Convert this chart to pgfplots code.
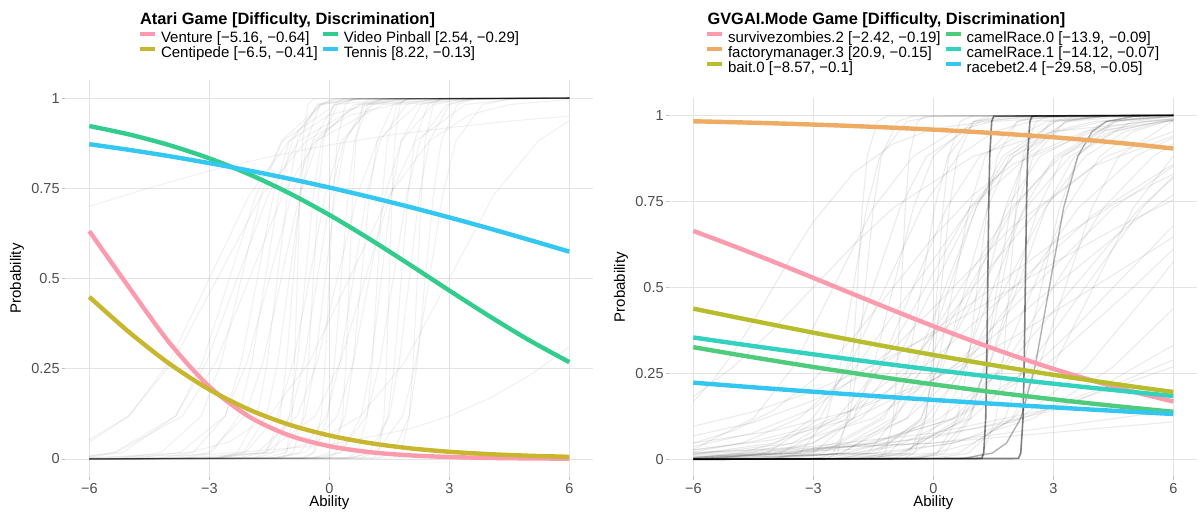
\documentclass[border=0pt]{standalone}
\usepackage{pgfplots}
\pgfplotsset{compat=1.18}
\usepackage{fontspec}
\setmainfont{Liberation Sans}
\definecolor{cPink}{HTML}{FB9BAD}
\definecolor{cOlive}{HTML}{C8B62E}
\definecolor{cGreen}{HTML}{32CC8D}
\definecolor{cBlue}{HTML}{33C7F1}
\definecolor{cOrange}{HTML}{EDAB63}
\definecolor{cBait}{HTML}{B8BD2E}
\definecolor{cCamelA}{HTML}{4ECC7C}
\definecolor{cCamelB}{HTML}{33D2BE}
\definecolor{cRace}{HTML}{33C6F1}
\definecolor{gridc}{HTML}{E3E3E3}
\definecolor{tickc}{HTML}{4D4D4D}
\pgfplotsset{
  irt/.style={
    scale only axis, width=528pt,
    xmin=-6.6, xmax=6.6, ymin=-0.05, ymax=1.05,
    xtick={-6,-3,0,3,6}, xticklabels={−6,−3,0,3,6},
    ytick={0,0.25,0.5,0.75,1}, yticklabels={0,0.25,0.5,0.75,1},
    grid=major, major grid style={draw=gridc, line width=0.8pt},
    axis line style={draw=none},
    tick pos=left, tick align=outside, major tick length=3.5pt,
    tick style={draw=gridc!85!black, line width=0.8pt},
    xticklabel style={font=\fontsize{14.5}{16}\selectfont, text=tickc, inner sep=1pt, yshift=-2pt},
    yticklabel style={font=\fontsize{14.5}{16}\selectfont, text=tickc, inner sep=1pt, xshift=-1pt},
    label style={font=\fontsize{15}{17}\selectfont},
    xlabel={Ability}, ylabel={Probability},
    ylabel style={at={(axis description cs:-0.0915,0.5)}, anchor=center},
    legend columns=2, legend cell align=left,
    legend style={draw=none, fill=none, inner sep=0pt, outer sep=0pt,
      font=\fontsize{15}{17}\selectfont, anchor=north west, row sep=2.7pt,
      nodes={inner sep=0pt},
      /tikz/every odd column/.append style={column sep=4pt},
      /tikz/every even column/.append style={column sep=3pt}},
    legend image code/.code={\draw[#1, line width=4pt] (0pt,4pt) -- (15pt,4pt);},
  },
  fL/.style={draw=black, draw opacity=0.055, line width=1.1pt, forget plot},
  fR/.style={draw=black, draw opacity=0.08, line width=1.1pt, forget plot},
  hl/.style={line width=4.4pt, smooth},
}
\begin{document}
\begin{tikzpicture}
\path[use as bounding box] (0,0) rectangle (1198pt,513pt);
\node[anchor=base west, font=\bfseries\fontsize{16.4}{18}\selectfont] at (136.5pt,488pt) {Atari Game [Difficulty, Discrimination]};
\node[anchor=base west, font=\bfseries\fontsize{16.4}{18}\selectfont] at (704pt,488pt) {GVGAI.Mode Game [Difficulty, Discrimination]};
% ---------------- Left panel ----------------
\begin{axis}[irt, at={(65.3pt,36pt)}, anchor=south west, height=397pt,
  xlabel style={at={(axis description cs:0.5,-0.0655)}, anchor=center},
  legend style={at={(axis description cs:0.1377,1.1217)}}]
\addplot[fL] coordinates {(-6,0.005)(-5.167,0.018)(-3.833,0.119)(-3.167,0.269)(-2.5,0.5)(-1.833,0.731)(-1.167,0.881)(0.167,0.982)(1.5,0.9975)(6,1)};
\addplot[fL] coordinates {(-6,0)(-5.2,0.0025)(-4.2,0.018)(-3.2,0.119)(-2.7,0.269)(-2.2,0.5)(-1.7,0.731)(-1.2,0.881)(-0.2,0.982)(0.8,0.9975)(6,1)};
\addplot[fL] coordinates {(-6,0.008)(-5.333,0.018)(-3.667,0.119)(-2.833,0.269)(-2,0.5)(-1.167,0.731)(-0.333,0.881)(1.333,0.982)(3,0.9975)(6,1)};
\addplot[fL] coordinates {(-6,0)(-4.2,0.0025)(-3.4,0.018)(-2.6,0.119)(-2.2,0.269)(-1.8,0.5)(-1.4,0.731)(-1,0.881)(-0.2,0.982)(0.6,0.9975)(6,1)};
\addplot[fL] coordinates {(-6,0)(-3.6,0.0025)(-2.933,0.018)(-2.267,0.119)(-1.933,0.269)(-1.6,0.5)(-1.267,0.731)(-0.933,0.881)(-0.267,0.982)(0.4,0.9975)(6,1)};
\addplot[fL] coordinates {(-6,0)(-4.833,0.0025)(-3.722,0.018)(-2.611,0.119)(-2.056,0.269)(-1.5,0.5)(-0.944,0.731)(-0.389,0.881)(0.722,0.982)(1.833,0.9975)(6,1)};
\addplot[fL] coordinates {(-6,0)(-2.8,0.0025)(-2.3,0.018)(-1.8,0.119)(-1.55,0.269)(-1.3,0.5)(-1.05,0.731)(-0.8,0.881)(-0.3,0.982)(0.2,0.9975)(6,1)};
\addplot[fL] coordinates {(-6,0)(-3.927,0.0025)(-3.018,0.018)(-2.109,0.119)(-1.655,0.269)(-1.2,0.5)(-0.745,0.731)(-0.291,0.881)(0.618,0.982)(1.527,0.9975)(6,1)};
\addplot[fL] coordinates {(-6,0)(-2.714,0.0025)(-2.143,0.018)(-1.571,0.119)(-1.286,0.269)(-1,0.5)(-0.714,0.731)(-0.429,0.881)(0.143,0.982)(0.714,0.9975)(6,1)};
\addplot[fL] coordinates {(-6,0)(-1.9,0.0025)(-1.567,0.018)(-1.233,0.119)(-1.067,0.269)(-0.9,0.5)(-0.733,0.731)(-0.567,0.881)(-0.233,0.982)(0.1,0.9975)(6,1)};
\addplot[fL] coordinates {(-6,0)(-1.2,0.0025)(-1.067,0.018)(-0.933,0.119)(-0.867,0.269)(-0.8,0.5)(-0.733,0.731)(-0.667,0.881)(-0.533,0.982)(-0.4,0.9975)(6,1)};
\addplot[fL] coordinates {(-6,0)(-1.8,0.0025)(-1.4,0.018)(-1,0.119)(-0.8,0.269)(-0.6,0.5)(-0.4,0.731)(-0.2,0.881)(0.2,0.982)(0.6,0.9975)(6,1)};
\addplot[fL] coordinates {(-6,0)(-2.9,0.0025)(-2.1,0.018)(-1.3,0.119)(-0.9,0.269)(-0.5,0.5)(-0.1,0.731)(0.3,0.881)(1.1,0.982)(1.9,0.9975)(6,1)};
\addplot[fL] coordinates {(-6,0)(-1.15,0.0025)(-0.9,0.018)(-0.65,0.119)(-0.525,0.269)(-0.4,0.5)(-0.275,0.731)(-0.15,0.881)(0.1,0.982)(0.35,0.9975)(6,1)};
\addplot[fL] coordinates {(-6,0)(-2.3,0.0025)(-1.633,0.018)(-0.967,0.119)(-0.633,0.269)(-0.3,0.5)(0.033,0.731)(0.367,0.881)(1.033,0.982)(1.7,0.9975)(6,1)};
\addplot[fL] coordinates {(-6,0)(-1.6,0.0025)(-1.1,0.018)(-0.6,0.119)(-0.35,0.269)(-0.1,0.5)(0.15,0.731)(0.4,0.881)(0.9,0.982)(1.4,0.9975)(6,1)};
\addplot[fL] coordinates {(-6,0)(-0.6,0.0025)(-0.4,0.018)(-0.2,0.119)(-0.1,0.269)(0,0.5)(0.1,0.731)(0.2,0.881)(0.4,0.982)(0.6,0.9975)(6,1)};
\addplot[fL] coordinates {(-6,0)(-2.8,0.0025)(-1.8,0.018)(-0.8,0.119)(-0.3,0.269)(0.2,0.5)(0.7,0.731)(1.2,0.881)(2.2,0.982)(3.2,0.9975)(6,1)};
\addplot[fL] coordinates {(-6,0)(-0.7,0.0025)(-0.367,0.018)(-0.033,0.119)(0.133,0.269)(0.3,0.5)(0.467,0.731)(0.633,0.881)(0.967,0.982)(1.3,0.9975)(6,1)};
\addplot[fL] coordinates {(-6,0)(0,0.0025)(0.167,0.018)(0.333,0.119)(0.417,0.269)(0.5,0.5)(0.583,0.731)(0.667,0.881)(0.833,0.982)(1,0.9975)(6,1)};
\addplot[fL] coordinates {(-6,0)(-1.4,0.0025)(-0.733,0.018)(-0.067,0.119)(0.267,0.269)(0.6,0.5)(0.933,0.731)(1.267,0.881)(1.933,0.982)(2.6,0.9975)(6,1)};
\addplot[fL] coordinates {(-6,0)(-0.4,0.0025)(0,0.018)(0.4,0.119)(0.6,0.269)(0.8,0.5)(1,0.731)(1.2,0.881)(1.6,0.982)(2,0.9975)(6,1)};
\addplot[fL] coordinates {(-6,0)(-1.4,0.0025)(-0.6,0.018)(0.2,0.119)(0.6,0.269)(1,0.5)(1.4,0.731)(1.8,0.881)(2.6,0.982)(3.4,0.9975)(6,1)};
\addplot[fL] coordinates {(-6,0)(0.45,0.0025)(0.7,0.018)(0.95,0.119)(1.075,0.269)(1.2,0.5)(1.325,0.731)(1.45,0.881)(1.7,0.982)(1.95,0.9975)(6,1)};
\addplot[fL] coordinates {(-6,0)(-0.2,0.0025)(0.3,0.018)(0.8,0.119)(1.05,0.269)(1.3,0.5)(1.55,0.731)(1.8,0.881)(2.3,0.982)(2.8,0.9975)(6,1)};
\addplot[fL] coordinates {(-6,0)(1.1,0.0025)(1.233,0.018)(1.367,0.119)(1.433,0.269)(1.5,0.5)(1.567,0.731)(1.633,0.881)(1.767,0.982)(1.9,0.9975)(6,1)};
\addplot[fL] coordinates {(-6,0)(-0.4,0.0025)(0.267,0.018)(0.933,0.119)(1.267,0.269)(1.6,0.5)(1.933,0.731)(2.267,0.881)(2.933,0.982)(3.6,0.9975)(6,1)};
\addplot[fL] coordinates {(-6,0)(0.8,0.0025)(1.133,0.018)(1.467,0.119)(1.633,0.269)(1.8,0.5)(1.967,0.731)(2.133,0.881)(2.467,0.982)(2.8,0.9975)(6,1)};
\addplot[fL] coordinates {(-6,0)(0.5,0.0025)(1,0.018)(1.5,0.119)(1.75,0.269)(2,0.5)(2.25,0.731)(2.5,0.881)(3,0.982)(3.5,0.9975)(6,1)};
\addplot[fL] coordinates {(-6,0)(1.6,0.0025)(1.8,0.018)(2,0.119)(2.1,0.269)(2.2,0.5)(2.3,0.731)(2.4,0.881)(2.6,0.982)(2.8,0.9975)(6,1)};
\addplot[fL] coordinates {(-6,0)(1.2,0.0025)(1.6,0.018)(2,0.119)(2.2,0.269)(2.4,0.5)(2.6,0.731)(2.8,0.881)(3.2,0.982)(3.6,0.9975)(6,1)};
\addplot[fL] coordinates {(-6,0)(0.5,0.0025)(1.167,0.018)(1.833,0.119)(2.167,0.269)(2.5,0.5)(2.833,0.731)(3.167,0.881)(3.833,0.982)(4.5,0.9975)(6,1)};
\addplot[fL] coordinates {(-6,0.047)(-5,0.119)(-4,0.269)(-3,0.5)(-2,0.731)(-1,0.881)(0,0.953)(1,0.982)(3,0.9975)(6,1)};
\addplot[fL] coordinates {(-6,0.053)(-5.022,0.119)(-3.911,0.269)(-2.8,0.5)(-1.689,0.731)(-0.578,0.881)(0.533,0.953)(1.644,0.982)(3.867,0.9975)(6,1)};
\addplot[fL] coordinates {(-6,0.002)(-3.5,0.018)(-2.5,0.047)(-1.5,0.119)(-0.5,0.269)(0.5,0.5)(1.5,0.731)(2.5,0.881)(3.5,0.953)(4.5,0.982)(6,0.996)};
\addplot[fL] coordinates {(-6,0.700)(-4.5,0.751)(-3,0.798)(-1.5,0.837)(0,0.870)(1.5,0.897)(3,0.918)(4.5,0.936)(6,0.950)};
\addplot[fL] coordinates {(-6,0)(-3.667,0.0025)(-1.444,0.018)(-0.333,0.047)(0.778,0.119)(1.889,0.269)(3,0.5)(4.111,0.731)(5.222,0.881)(6,0.937)};
\addplot[fL] coordinates {(-6,0.004)(-3,0.012)(0,0.039)(2,0.083)(3,0.119)(4,0.168)(5,0.231)(6,0.310)};
\addplot[fL] coordinates {(-6,0.008)(-5.377,0.018)(-3.838,0.119)(-3.069,0.269)(-2.3,0.5)(-1.531,0.731)(-0.762,0.881)(0.777,0.982)(2.315,0.9975)(6,1)};
\addplot[fL] coordinates {(-6,0)(-2.85,0.0025)(-1.6,0.018)(-0.35,0.119)(0.275,0.269)(0.9,0.5)(1.525,0.731)(2.15,0.881)(3.4,0.982)(4.65,0.9975)(6,1)};
% highlighted games
\addplot[hl, cPink] coordinates {(-6,0.6313)(-5,0.4744)(-4,0.3225)(-3,0.2006)(-2,0.1169)(-1,0.0652)(0,0.0355)(1,0.0190)(2,0.0101)(3,0.0054)(4,0.0028)(5,0.0015)(6,0.0008)};
\addlegendentry{Venture [−5.16, −0.64]}
\addplot[hl, cGreen] coordinates {(-6,0.9225)(-5,0.8990)(-4,0.8695)(-3,0.8329)(-2,0.7886)(-1,0.7363)(0,0.6763)(1,0.6098)(2,0.5391)(3,0.4667)(4,0.3957)(5,0.3288)(6,0.2683)};
\addlegendentry{Video Pinball [2.54, −0.29]}
\addplot[hl, cOlive] coordinates {(-6,0.4490)(-5,0.3509)(-4,0.2641)(-3,0.1923)(-2,0.1365)(-1,0.0949)(0,0.0651)(1,0.0442)(2,0.0297)(3,0.0199)(4,0.0133)(5,0.0089)(6,0.0059)};
\addlegendentry{Centipede [−6.5, −0.41]}
\addplot[hl, cBlue] coordinates {(-6,0.8721)(-5,0.8563)(-4,0.8389)(-3,0.8197)(-2,0.7989)(-1,0.7764)(0,0.7521)(1,0.7260)(2,0.6984)(3,0.6692)(4,0.6387)(5,0.6070)(6,0.5744)};
\addlegendentry{Tennis [8.22, −0.13]}
\end{axis}
% ---------------- Right panel ----------------
\begin{axis}[irt, at={(669.3pt,36.5pt)}, anchor=south west, height=378.4pt,
  xlabel style={at={(axis description cs:0.5,-0.070)}, anchor=center},
  legend style={at={(axis description cs:0.0676,1.1755)}}]
\addplot[fR] coordinates {(-6,0)(-4,0.0025)(-3.333,0.018)(-2.667,0.119)(-2.333,0.269)(-2,0.5)(-1.667,0.731)(-1.333,0.881)(-0.667,0.982)(0,0.9975)(6,1)};
\addplot[fR] coordinates {(-6,0)(-2.65,0.0025)(-2.4,0.018)(-2.15,0.119)(-2.025,0.269)(-1.9,0.5)(-1.775,0.731)(-1.65,0.881)(-1.4,0.982)(-1.15,0.9975)(6,1)};
\addplot[fR] coordinates {(-6,0.001)(-5.5,0.0025)(-4.167,0.018)(-2.833,0.119)(-2.167,0.269)(-1.5,0.5)(-0.833,0.731)(-0.167,0.881)(1.167,0.982)(2.5,0.9975)(6,1)};
\addplot[fR] coordinates {(-6,0)(-4,0.0025)(-3,0.018)(-2,0.119)(-1.5,0.269)(-1,0.5)(-0.5,0.731)(0,0.881)(1,0.982)(2,0.9975)(6,1)};
\addplot[fR] coordinates {(-6,0)(-1.4,0.0025)(-1.2,0.018)(-1,0.119)(-0.9,0.269)(-0.8,0.5)(-0.7,0.731)(-0.6,0.881)(-0.4,0.982)(-0.2,0.9975)(6,1)};
\addplot[fR] coordinates {(-6,0.001)(-5.5,0.0025)(-3.833,0.018)(-2.167,0.119)(-1.333,0.269)(-0.5,0.5)(0.333,0.731)(1.167,0.881)(2.833,0.982)(4.5,0.9975)(6,1)};
\addplot[fR] coordinates {(-6,0)(-2.3,0.0025)(-1.633,0.018)(-0.967,0.119)(-0.633,0.269)(-0.3,0.5)(0.033,0.731)(0.367,0.881)(1.033,0.982)(1.7,0.9975)(6,1)};
\addplot[fR] coordinates {(-6,0.002)(-4,0.018)(-3,0.047)(-2,0.119)(-1,0.269)(0,0.5)(1,0.731)(2,0.881)(3,0.953)(4,0.982)(6,0.998)};
\addplot[fR] coordinates {(-6,0)(-1,0.0025)(-0.6,0.018)(-0.2,0.119)(0,0.269)(0.2,0.5)(0.4,0.731)(0.6,0.881)(1,0.982)(1.4,0.9975)(6,1)};
\addplot[fR] coordinates {(-6,0)(-3.6,0.0025)(-2.267,0.018)(-0.933,0.119)(-0.267,0.269)(0.4,0.5)(1.067,0.731)(1.733,0.881)(3.067,0.982)(4.4,0.9975)(6,1)};
\addplot[fR] coordinates {(-6,0)(-1.9,0.0025)(-1.1,0.018)(-0.3,0.119)(0.1,0.269)(0.5,0.5)(0.9,0.731)(1.3,0.881)(2.1,0.982)(2.9,0.9975)(6,1)};
\addplot[fR] coordinates {(-6,0.005)(-4.3,0.018)(-3.05,0.047)(-1.8,0.119)(-0.55,0.269)(0.7,0.5)(1.95,0.731)(3.2,0.881)(4.45,0.953)(5.7,0.982)(6,0.986)};
\addplot[fR] coordinates {(-6,0)(-2.533,0.0025)(-1.422,0.018)(-0.311,0.119)(0.244,0.269)(0.8,0.5)(1.356,0.731)(1.911,0.881)(3.022,0.982)(4.133,0.9975)(6,1)};
\addplot[fR] coordinates {(-6,0)(-4,0.0025)(-2.333,0.018)(-0.667,0.119)(0.167,0.269)(1,0.5)(1.833,0.731)(2.667,0.881)(4.333,0.982)(6,0.998)};
\addplot[fR] coordinates {(-6,0)(-0.4,0.0025)(0.1,0.018)(0.6,0.119)(0.85,0.269)(1.1,0.5)(1.35,0.731)(1.6,0.881)(2.1,0.982)(2.6,0.9975)(6,1)};
\addplot[fR] coordinates {(-6,0.002)(-3.244,0.018)(-2.133,0.047)(-1.022,0.119)(0.089,0.269)(1.2,0.5)(2.311,0.731)(3.422,0.881)(4.533,0.953)(5.644,0.982)(6,0.987)};
\addplot[fR] coordinates {(-6,0)(-1.7,0.0025)(-0.7,0.018)(0.3,0.119)(0.8,0.269)(1.3,0.5)(1.8,0.731)(2.3,0.881)(3.3,0.982)(4.3,0.9975)(6,1)};
\addplot[fR] coordinates {(-6,0)(-3.115,0.0025)(-1.577,0.018)(-0.038,0.119)(0.731,0.269)(1.5,0.5)(2.269,0.731)(3.038,0.881)(4.577,0.982)(6,0.997)};
\addplot[fR] coordinates {(-6,0)(-0.4,0.0025)(0.267,0.018)(0.933,0.119)(1.267,0.269)(1.6,0.5)(1.933,0.731)(2.267,0.881)(2.933,0.982)(3.6,0.9975)(6,1)};
\addplot[fR] coordinates {(-6,0)(-4.2,0.0025)(-2.2,0.018)(-1.2,0.047)(-0.2,0.119)(0.8,0.269)(1.8,0.5)(2.8,0.731)(3.8,0.881)(4.8,0.953)(5.8,0.982)(6,0.985)};
\addplot[fR] coordinates {(-6,0)(-1.75,0.0025)(-0.5,0.018)(0.75,0.119)(1.375,0.269)(2,0.5)(2.625,0.731)(3.25,0.881)(4.5,0.982)(5.75,0.9975)(6,0.998)};
\addplot[fR] coordinates {(-6,0.003)(-3.514,0.018)(-2.086,0.047)(-0.657,0.119)(0.771,0.269)(2.2,0.5)(3.629,0.731)(5.057,0.881)(6,0.935)};
\addplot[fR] coordinates {(-6,0)(-2.5,0.0025)(-0.833,0.018)(0.833,0.119)(1.667,0.269)(2.5,0.5)(3.333,0.731)(4.167,0.881)(5,0.953)(5.833,0.982)(6,0.985)};
\addplot[fR] coordinates {(-6,0)(-0.027,0.0025)(0.882,0.018)(1.791,0.119)(2.245,0.269)(2.7,0.5)(3.155,0.731)(3.609,0.881)(4.518,0.982)(5.427,0.9975)(6,1)};
\addplot[fR] coordinates {(-6,0.001)(-2,0.018)(-0.75,0.047)(0.5,0.119)(1.75,0.269)(3,0.5)(4.25,0.731)(5.5,0.881)(6,0.917)};
\addplot[fR] coordinates {(-6,0)(-0.7,0.0025)(0.633,0.018)(1.967,0.119)(2.633,0.269)(3.3,0.5)(3.967,0.731)(4.633,0.881)(5.967,0.982)(6,0.983)};
\addplot[fR] coordinates {(-6,0.003)(-3.167,0.018)(-1.5,0.047)(0.167,0.119)(1.833,0.269)(3.5,0.5)(5.167,0.731)(6,0.818)};
\addplot[fR] coordinates {(-6,0)(-2,0.0025)(0,0.018)(1,0.047)(2,0.119)(3,0.269)(4,0.5)(5,0.731)(6,0.881)};
\addplot[fR] coordinates {(-6,0.005)(-3.5,0.018)(-1.5,0.047)(0.5,0.119)(2.5,0.269)(3.5,0.378)(4.5,0.5)(6,0.679)};
\addplot[fR] coordinates {(-6,0.001)(-1.167,0.018)(0.5,0.047)(2.167,0.119)(3.833,0.269)(5.5,0.5)(6,0.574)};
\addplot[fR] coordinates {(-6,0.002)(-1.5,0.018)(0.5,0.047)(2.5,0.119)(4.5,0.269)(6,0.438)};
\addplot[fR] coordinates {(-6,0.007)(-2,0.029)(2,0.109)(4,0.198)(6,0.332)};
\addplot[fR] coordinates {(-6,0.011)(-3,0.027)(0,0.063)(3,0.142)(6,0.289)};
\addplot[fR] coordinates {(-6,0.018)(-3,0.038)(0,0.076)(3,0.148)(6,0.269)};
\addplot[fR] coordinates {(-6,0.015)(0,0.047)(6,0.142)};
\addplot[fR] coordinates {(-6,0.020)(0,0.047)(6,0.109)};
\addplot[fR] coordinates {(-6,0.182)(-5,0.269)(-4,0.378)(-3,0.5)(-2,0.622)(-1,0.731)(1,0.881)(3,0.953)(6,0.989)};
\addplot[fR] coordinates {(-6,0.047)(-5,0.083)(-4,0.142)(-3,0.231)(-2,0.354)(-1,0.5)(0,0.646)(1,0.769)(2,0.858)(4,0.953)(6,0.985)};
\addplot[fR] coordinates {(-6,0.037)(-4.5,0.077)(-3,0.148)(-1,0.321)(0.5,0.5)(2,0.679)(4,0.852)(6,0.940)};
\addplot[fR] coordinates {(-6,0.027)(-4.5,0.052)(-3,0.095)(-1.5,0.171)(0,0.289)(2,0.5)(4,0.711)(6,0.858)};
\addplot[fR] coordinates {(-6,0.027)(-4,0.057)(-2,0.119)(0,0.231)(1,0.310)(3,0.5)(5,0.690)(6,0.769)};
\addplot[fR] coordinates {(-6,0.168)(-5.5,0.231)(-5,0.310)(-4.5,0.401)(-4,0.5)(-3.5,0.599)(-3,0.690)(-2,0.832)(-1,0.917)(0,0.961)(2,0.992)(6,1)};
\addplot[fR] coordinates {(-6,0.068)(-4.5,0.107)(-3,0.171)(-1.5,0.259)(0,0.372)(1.5,0.5)(3,0.628)(4.5,0.741)(6,0.829)};
\addplot[fR] coordinates {(-6,0.047)(-4,0.083)(-2,0.142)(0,0.231)(2,0.354)(4,0.5)(6,0.646)};
\addplot[fR] coordinates {(-6,0.029)(-4.5,0.119)(-3.5,0.269)(-2.5,0.5)(-1.5,0.731)(-0.5,0.881)(0.5,0.953)(1.5,0.982)(3.5,0.9975)(6,1)};
\addplot[fR] coordinates {(-6,0.004)(-4.644,0.018)(-3.533,0.047)(-2.422,0.119)(-1.311,0.269)(-0.2,0.5)(0.911,0.731)(2.022,0.881)(3.133,0.953)(4.244,0.982)(6,0.996)};
\addplot[fR] coordinates {(-6,0)(0.9,0.0025)(1.233,0.018)(1.567,0.119)(1.733,0.269)(1.9,0.5)(2.067,0.731)(2.233,0.881)(2.567,0.982)(2.9,0.9975)(6,1)};
\addplot[fR] coordinates {(-6,0)(-2.9,0.0025)(-2.5,0.018)(-2.1,0.119)(-1.9,0.269)(-1.7,0.5)(-1.5,0.731)(-1.3,0.881)(-0.9,0.982)(-0.5,0.9975)(6,1)};
\addplot[fR] coordinates {(-6,0)(-0.757,0.0025)(-0.471,0.018)(-0.186,0.119)(-0.043,0.269)(0.1,0.5)(0.243,0.731)(0.386,0.881)(0.671,0.982)(0.957,0.9975)(6,1)};
\addplot[fR] coordinates {(-6,0.096)(-4.5,0.138)(-3,0.198)(-1.5,0.273)(0,0.364)(1.5,0.465)(3,0.570)(4.5,0.668)(6,0.754)};
\addplot[fR] coordinates {(-6,0)(-4.315,0.0025)(-2.777,0.018)(-1.238,0.119)(-0.469,0.269)(0.3,0.5)(1.069,0.731)(1.838,0.881)(3.377,0.982)(4.915,0.9975)(6,1)};
\addplot[fR] coordinates {(-6,0.015)(-4,0.047)(-2.333,0.119)(-0.667,0.269)(1,0.5)(2.667,0.731)(4.333,0.881)(6,0.953)};
\addplot[fR] coordinates {(-6,0.021)(-4.786,0.047)(-3.357,0.119)(-1.929,0.269)(-0.5,0.5)(0.929,0.731)(2.357,0.881)(3.786,0.953)(5.214,0.982)(6,0.990)};
\addplot[fR] coordinates {(-6,0.014)(-3.5,0.047)(-1.5,0.119)(0.5,0.269)(2.5,0.5)(4.5,0.731)(6,0.852)};
\addplot[fR] coordinates {(-6,0)(-0.7,0.0025)(0.1,0.018)(0.9,0.119)(1.3,0.269)(1.7,0.5)(2.1,0.731)(2.5,0.881)(3.3,0.982)(4.1,0.9975)(6,1)};
\addplot[fR] coordinates {(-6,0.002)(-3.544,0.018)(-2.433,0.047)(-1.322,0.119)(-0.211,0.269)(0.9,0.5)(2.011,0.731)(3.122,0.881)(4.233,0.953)(5.344,0.982)(6,0.990)};
\addplot[fR] coordinates {(-6,0)(-4.77,0.0025)(-1.914,0.018)(-0.486,0.047)(0.943,0.119)(2.371,0.269)(3.8,0.5)(5.229,0.731)(6,0.823)};
\addplot[fR] coordinates {(-6,0.005)(-4.836,0.018)(-3.927,0.047)(-3.018,0.119)(-2.109,0.269)(-1.2,0.5)(-0.291,0.731)(0.618,0.881)(1.527,0.953)(2.436,0.982)(4.255,0.9975)(6,1)};
\addplot[fR] coordinates {(-6,0)(-2.186,0.0025)(-0.757,0.018)(0.671,0.119)(1.386,0.269)(2.1,0.5)(2.814,0.731)(3.529,0.881)(4.957,0.982)(6,0.997)};
\addplot[fR] coordinates {(-6,0.007)(-3.889,0.018)(-1.667,0.047)(0.556,0.119)(2.778,0.269)(5,0.5)(6,0.611)};
\addplot[fR, draw opacity=0.5, line width=1.6pt] coordinates {(-6,0)(1.21,0.0025)(1.26,0.018)(1.31,0.119)(1.335,0.269)(1.36,0.5)(1.385,0.731)(1.41,0.881)(1.46,0.982)(1.51,0.9975)(6,1)};
\addplot[fR, draw opacity=0.5, line width=1.6pt] coordinates {(-6,0)(2.129,0.0025)(2.186,0.018)(2.243,0.119)(2.271,0.269)(2.3,0.5)(2.329,0.731)(2.357,0.881)(2.414,0.982)(2.471,0.9975)(6,1)};
\addplot[fR, draw opacity=0.3, line width=1.4pt] coordinates {(-6,0)(0.757,0.0025)(1.471,0.018)(1.829,0.047)(2.186,0.119)(2.543,0.269)(2.9,0.5)(3.257,0.731)(3.614,0.881)(3.971,0.953)(4.329,0.982)(5.043,0.9975)(6,1)};
% highlighted games
\addplot[hl, cPink] coordinates {(-6,0.6639)(-5,0.6202)(-4,0.5745)(-3,0.5275)(-2,0.4801)(-1,0.4329)(0,0.3870)(1,0.3430)(2,0.3016)(3,0.2631)(4,0.2280)(5,0.1963)(6,0.1680)};
\addlegendentry{survivezombies.2 [−2.42, −0.19]}
\addplot[hl, cCamelA] coordinates {(-6,0.3259)(-5,0.3060)(-4,0.2869)(-3,0.2684)(-2,0.2507)(-1,0.2338)(0,0.2178)(1,0.2025)(2,0.1880)(3,0.1744)(4,0.1615)(5,0.1495)(6,0.1381)};
\addlegendentry{camelRace.0 [−13.9, −0.09]}
\addplot[hl, cOrange] coordinates {(-6,0.9826)(-5,0.9799)(-4,0.9767)(-3,0.9730)(-2,0.9688)(-1,0.9639)(0,0.9583)(1,0.9519)(2,0.9445)(3,0.9361)(4,0.9266)(5,0.9157)(6,0.9034)};
\addlegendentry{factorymanager.3 [20.9, −0.15]}
\addplot[hl, cCamelB] coordinates {(-6,0.3542)(-5,0.3374)(-4,0.3211)(-3,0.3052)(-2,0.2897)(-1,0.2747)(0,0.2602)(1,0.2462)(2,0.2327)(3,0.2198)(4,0.2074)(5,0.1955)(6,0.1841)};
\addlegendentry{camelRace.1 [−14.12, −0.07]}
\addplot[hl, cBait] coordinates {(-6,0.4380)(-5,0.4143)(-4,0.3910)(-3,0.3681)(-2,0.3459)(-1,0.3242)(0,0.3034)(1,0.2833)(2,0.2640)(3,0.2456)(4,0.2281)(5,0.2114)(6,0.1957)};
\addlegendentry{bait.0 [−8.57, −0.1]}
\addplot[hl, cRace] coordinates {(-6,0.2228)(-5,0.2137)(-4,0.2049)(-3,0.1964)(-2,0.1882)(-1,0.1802)(0,0.1726)(1,0.1651)(2,0.1579)(3,0.1510)(4,0.1443)(5,0.1379)(6,0.1317)};
\addlegendentry{racebet2.4 [−29.58, −0.05]}
\end{axis}
\end{tikzpicture}
\end{document}
